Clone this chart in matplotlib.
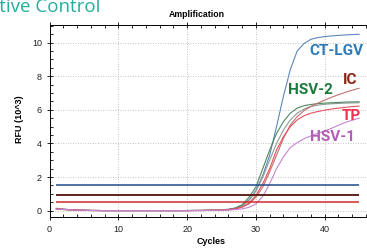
import matplotlib
matplotlib.use('Agg')
import matplotlib.pyplot as plt
from matplotlib.ticker import MultipleLocator

# cycles 1..45
cycles = list(range(1, 46))

# RFU (10^3), one value per cycle
ct_lgv = [0.12, 0.08, 0.05, 0.03, 0.02, 0.01, 0.01, 0.00, 0.00, 0.00,
          0.00, 0.00, 0.00, 0.00, 0.00, 0.00, 0.00, 0.00, 0.00, 0.01,
          0.01, 0.01, 0.02, 0.03, 0.05, 0.08, 0.15, 0.32, 0.65, 1.20,
          2.10, 3.30, 5.00, 6.80, 8.40, 9.50, 9.95, 10.20, 10.30, 10.36,
          10.40, 10.43, 10.46, 10.48, 10.50]
hsv2 = [0.10, 0.07, 0.05, 0.03, 0.02, 0.01, 0.00, 0.00, 0.00, 0.00,
        0.00, 0.00, 0.00, 0.00, 0.00, 0.00, 0.00, 0.00, 0.00, 0.00,
        0.01, 0.01, 0.02, 0.03, 0.04, 0.07, 0.15, 0.35, 0.80, 1.40,
        2.50, 3.60, 4.60, 5.30, 5.80, 6.10, 6.25, 6.32, 6.37, 6.40,
        6.42, 6.44, 6.46, 6.47, 6.48]
gray = [0.14, 0.09, 0.06, 0.04, 0.02, 0.01, 0.01, 0.00, 0.00, 0.00,
        0.00, 0.00, 0.00, 0.00, 0.00, 0.00, 0.00, 0.00, 0.00, 0.00,
        0.01, 0.01, 0.02, 0.03, 0.04, 0.06, 0.12, 0.28, 0.60, 1.15,
        2.00, 3.00, 4.00, 4.80, 5.40, 5.80, 6.05, 6.20, 6.28, 6.33,
        6.36, 6.38, 6.40, 6.41, 6.42]
ic = [0.08, 0.06, 0.04, 0.03, 0.02, 0.01, 0.00, 0.00, 0.00, 0.00,
      0.00, 0.00, 0.00, 0.00, 0.00, 0.00, 0.00, 0.00, 0.00, 0.00,
      0.00, 0.01, 0.01, 0.02, 0.03, 0.05, 0.10, 0.20, 0.40, 0.80,
      1.40, 2.30, 3.30, 4.30, 5.10, 5.60, 5.95, 6.20, 6.40, 6.58,
      6.75, 6.90, 7.04, 7.17, 7.28]
tp = [0.11, 0.08, 0.05, 0.03, 0.02, 0.01, 0.01, 0.00, 0.00, 0.00,
      0.00, 0.00, 0.00, 0.00, 0.00, 0.00, 0.00, 0.00, 0.00, 0.00,
      0.01, 0.01, 0.02, 0.03, 0.04, 0.06, 0.12, 0.22, 0.45, 0.90,
      1.60, 2.50, 3.60, 4.40, 5.00, 5.40, 5.65, 5.80, 5.90, 5.98,
      6.05, 6.10, 6.15, 6.19, 6.22]
hsv1 = [0.09, 0.07, 0.05, 0.03, 0.02, 0.01, 0.00, 0.00, 0.00, 0.00,
        0.00, 0.00, 0.00, 0.00, 0.00, 0.00, 0.00, 0.00, 0.00, 0.00,
        0.00, 0.00, 0.01, 0.01, 0.02, 0.03, 0.06, 0.10, 0.20, 0.40,
        0.85, 1.60, 2.50, 3.20, 3.75, 4.05, 4.28, 4.45, 4.60, 4.74,
        4.90, 5.08, 5.25, 5.38, 5.50]

curves = [ct_lgv, gray, hsv2, ic, tp, hsv1]
curve_colors = ['#5b87bb', '#8f9c98', '#4f8a5e', '#c07272', '#e5505e', '#c585d2']

# threshold lines
thresholds = [1.5, 0.92, 0.92, 0.49]
threshold_colors = ['#1f4c8a', '#1a1a1a', '#6a1d12', '#d42a2a']

labels = ['CT-LGV', 'IC', 'HSV-2', 'TP', 'HSV-1']
label_colors = ['#2e7bb8', '#8a2418', '#1b7a3c', '#f0304e', '#b35cb8']
label_pos = [(336, 51), (350, 80), (310, 90), (351, 116), (332, 137)]  # pixel centres

W, H = 367, 248
fig = plt.figure(figsize=(W / 100, H / 100), dpi=100)
ax = fig.add_axes([49.5 / W, (H - 217) / H, (368 - 49.5) / W, 192 / H])

for ys, c in zip(curves, curve_colors):
    ax.plot(cycles, ys, color=c, lw=0.8)
for y, c in zip(thresholds, threshold_colors):
    ax.hlines(y, cycles[0], cycles[-1], color=c, lw=1.1)

ax.set_xlim(0, (368 - 49.5) / 6.88)
ax.set_ylim(-0.38, 11.05)
ax.xaxis.set_major_locator(MultipleLocator(10))
ax.xaxis.set_minor_locator(MultipleLocator(2))
ax.yaxis.set_major_locator(MultipleLocator(2))
ax.yaxis.set_minor_locator(MultipleLocator(0.5))
ax.grid(True, which='major', ls=(0, (1, 2)), color='#b0b0b0', lw=0.6)
ax.tick_params(which='major', direction='inout', length=5, width=0.7,
               labelsize=6.5, pad=3, top=True, colors='#222222')
ax.tick_params(which='minor', direction='in', length=2.5, width=0.6, top=True)
ax.spines['right'].set_visible(False)
for s in ['left', 'bottom', 'top']:
    ax.spines[s].set_linewidth(0.7)
for t in ax.get_xticklabels() + ax.get_yticklabels():
    t.set_family('Liberation Sans')

ax.set_xlabel('Cycles', fontsize=6.5, fontweight='bold', family='Liberation Sans')
ax.set_ylabel('RFU (10^3)', fontsize=6.5, fontweight='bold', family='Liberation Sans')
ax.xaxis.label.set(va='center', ha='center')
ax.yaxis.label.set(va='center', ha='center')
ax.xaxis.set_label_coords((211 - 49.5) / 318.5, -(242 - 217) / 192)
ax.yaxis.set_label_coords((20 - 49.5) / 318.5, (217 - 119) / 192)

fig.text(197 / W, 1 - 14.5 / H, 'Amplification', ha='center', va='center',
         fontsize=6.3, fontweight='bold', family='Liberation Sans')
fig.text(100 / W, 1 - 12.5 / H, 'Positive Control', ha='right', va='baseline',
         fontsize=13.5, color='#22ad9c', family='Open Sans')

for txt, c, (px, py) in zip(labels, label_colors, label_pos):
    fig.text(px / W, 1 - py / H, txt, ha='center', va='center', color=c,
             fontsize=11, fontweight='bold', family='Roboto')

fig.savefig('out.png', dpi=100)
